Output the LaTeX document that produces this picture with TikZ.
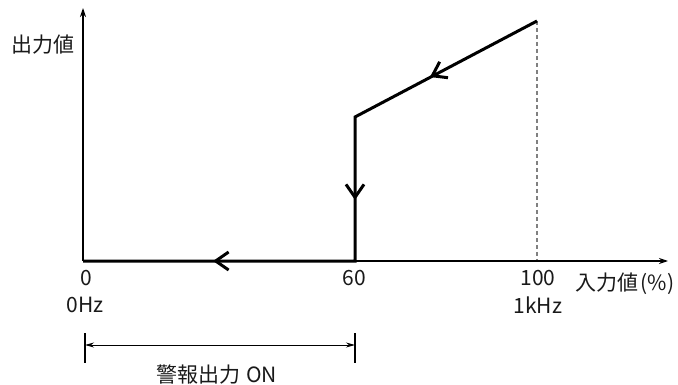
\documentclass[tikz,border=0pt]{standalone}
\usepackage{fontspec}
\setmainfont{Noto Sans CJK JP}
\usetikzlibrary{arrows.meta,decorations.markings}
\begin{document}
\begin{tikzpicture}[x=1pt,y=-1pt,
  lbl/.style={inner sep=0pt,font=\fontsize{21}{24}\selectfont,text=black!90},
  axis/.style={line width=1.2pt,-{Stealth[length=9pt,width=6pt]}},
  curve/.style={line width=3pt,line join=miter},
  barb/.style={decoration={markings,mark=at position #1 with {\arrow{Straight Barb[length=13pt,width=18pt]}}},postaction=decorate},
  dim/.style={line width=0.9pt,{Stealth[length=9pt,width=5pt]}-{Stealth[length=9pt,width=5pt]}},
  tick/.style={line width=1.2pt},
  guide/.style={line width=1.8pt,draw=black!50,dash pattern=on 4pt off 3pt}]
\useasboundingbox (0,0) rectangle (678,385);
\coordinate (O) at (83,261);
\coordinate (Ytop) at (83,8);
\coordinate (Xend) at (668,261);
\coordinate (P60) at (355,261);
\coordinate (C) at (355,117);
\coordinate (Pk) at (537,21);
\coordinate (D) at (537,261);
\coordinate (L1) at (85,333);
\coordinate (L2) at (85,363);
\coordinate (R1) at (355,333);
\coordinate (R2) at (355,363);
\coordinate (DL) at (85,345);
\coordinate (DR) at (355,345);
% guide
\draw[guide] (Pk) -- (D);
% axes
\draw[axis] (O) -- (Ytop);
\draw[axis] (O) -- (Xend);
% characteristic
\draw[curve] (Pk) -- (C) -- (P60) -- (O);
\path[line width=3pt,barb=0.5] (Pk) -- (323,133);
\path[line width=3pt,barb=0.5] (C) -- (355,283);
\path[line width=3pt,barb=0.5] (P60) -- (71,261);
% dimension
\draw[tick] (L1) -- (L2);
\draw[tick] (R1) -- (R2);
\draw[dim] (DL) -- (DR);
% labels
\node[lbl] (ylab) at (43,45) {出力値};
\node[lbl] (t0) at (86,278) {0};
\node[lbl] (t0hz) at (85,305) {0Hz};
\node[lbl] (t60) at (354,278) {60};
\node[lbl] (t100) at (538,278) {100};
\node[lbl] (t1k) at (538,305) {1kHz};
\node[lbl] (xlab) at (625,284) {入力値\hspace{0.1em}(\%)};
\node[lbl] (alarm) at (217,375) {警報出力\hspace{0.25em}ON};
\end{tikzpicture}
\end{document}
